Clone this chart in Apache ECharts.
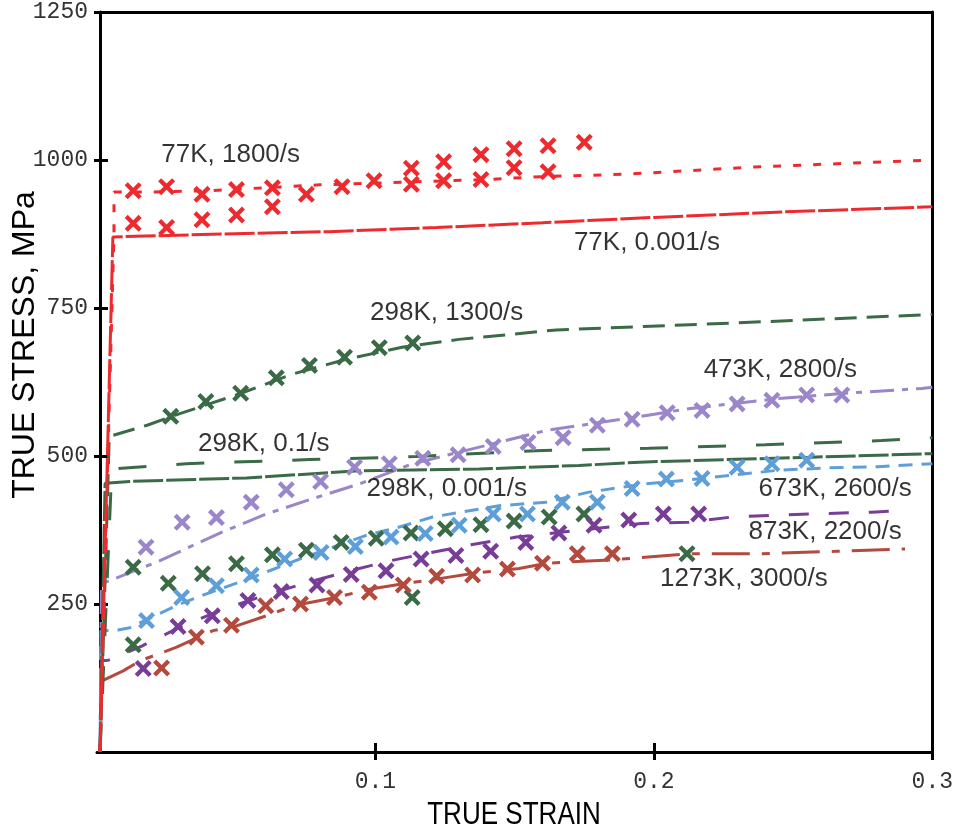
<!DOCTYPE html>
<html>
<head>
<meta charset="utf-8">
<script src="https://cdn.jsdelivr.net/npm/echarts@6/dist/echarts.min.js"></script>
<style>
  html, body { margin: 0; padding: 0; background: #fff; }
  #chart { width: 956px; height: 832px; }
</style>
</head>
<body>
<div id="chart"></div>
<script>
// axis ticks
const xTicks = [0.1, 0.2, 0.3]
const yTicks = [250, 500, 750, 1000, 1250]

// curves: [strain, stress MPa]
const k77_1800_line = [[0.001, 0], [0.0061, 875], [0.0061, 946], [0.02, 946], [0.04, 948], [0.06, 953], [0.08, 958], [0.1, 961], [0.12, 964], [0.14, 967], [0.16, 972], [0.19, 976], [0.235, 988], [0.3, 1000]]
const k77_1800_pts = [[0.013, 948], [0.013, 893], [0.025, 955], [0.025, 886], [0.0377, 942], [0.0377, 899], [0.0501, 950], [0.0501, 907], [0.063, 953], [0.063, 921], [0.0752, 942], [0.088, 955], [0.0995, 965], [0.1129, 986], [0.1129, 959], [0.1245, 997], [0.1245, 965], [0.1379, 1009], [0.1379, 967], [0.1498, 1019], [0.1498, 987], [0.162, 1024], [0.162, 980], [0.175, 1030]]
const k77_0001_line = [[0.0011, 0], [0.0057, 870], [0.045, 875], [0.0835, 879], [0.122, 886], [0.16, 894], [0.2, 903], [0.25, 913], [0.3, 921]]
const k298_1300_line = [[0.0011, 0], [0.0044, 533], [0.018, 552], [0.03, 572], [0.05, 603], [0.07, 638], [0.09, 664], [0.11, 684], [0.13, 697], [0.165, 713], [0.23, 725], [0.3, 739]]
const k298_1300_pts = [[0.0265, 567], [0.0391, 592], [0.0516, 606], [0.0644, 632], [0.0763, 653], [0.0889, 667], [0.1014, 683], [0.1134, 691]]
const k298_01_line = [[0.0011, 0], [0.0053, 478], [0.0321, 487], [0.0763, 494], [0.1146, 499], [0.1576, 509], [0.1982, 513], [0.24, 519], [0.2818, 526], [0.3, 531]]
const k298_0001_line = [[0.0011, 0], [0.0029, 454], [0.0118, 457], [0.0537, 463], [0.0943, 475], [0.1373, 478], [0.1731, 484], [0.197, 490], [0.2566, 498], [0.3, 504]]
const k298_lower_pts = [[0.013, 312], [0.0256, 285], [0.0379, 301], [0.0501, 318], [0.063, 333], [0.0752, 341], [0.0877, 354], [0.1003, 361], [0.1128, 370], [0.1251, 377], [0.1379, 384], [0.1498, 390], [0.1624, 397], [0.1749, 402], [0.013, 181], [0.1132, 261], [0.2119, 335]]
const k473_2800_line = [[0.0011, 0], [0.0016, 284], [0.0023, 287], [0.022, 322], [0.0447, 371], [0.0608, 402], [0.0775, 428], [0.0943, 453], [0.1134, 487], [0.1373, 515], [0.1612, 543], [0.1899, 563], [0.2125, 580], [0.2448, 597], [0.2687, 606], [0.2962, 614], [0.3, 616]]
const k473_2800_pts = [[0.0176, 346], [0.0306, 388], [0.0429, 396], [0.0554, 422], [0.068, 443], [0.0803, 457], [0.0925, 481], [0.105, 487], [0.117, 496], [0.1297, 502], [0.1423, 516], [0.1548, 523], [0.1674, 531], [0.1797, 552], [0.1922, 562], [0.2048, 573], [0.2173, 577], [0.2299, 588], [0.2424, 594], [0.2549, 603], [0.2675, 603]]
const k673_2600_line = [[0.0011, 0], [0.0014, 205], [0.0076, 206], [0.0118, 210], [0.0297, 250], [0.0398, 268], [0.0548, 293], [0.0624, 307], [0.0728, 326], [0.0847, 346], [0.0967, 366], [0.1086, 380], [0.1205, 397], [0.1444, 416], [0.1612, 422], [0.1767, 439], [0.197, 453], [0.2114, 459], [0.2269, 467], [0.2448, 476], [0.2627, 480], [0.2806, 482], [0.3, 487]]
const k673_2600_pts = [[0.0178, 222], [0.0304, 261], [0.0429, 281], [0.0554, 299], [0.0674, 326], [0.0805, 337], [0.0928, 347], [0.1056, 363], [0.1179, 369], [0.1301, 383], [0.1423, 402], [0.1546, 402], [0.1671, 422], [0.1797, 422], [0.1922, 445], [0.2045, 461], [0.2173, 462], [0.2299, 481], [0.2424, 487], [0.2549, 493]]
const k873_2200_line = [[0.0011, 0], [0.0015, 154], [0.004, 155], [0.0161, 179], [0.0294, 210], [0.0447, 240], [0.0593, 263], [0.0739, 284], [0.09, 305], [0.1043, 322], [0.1146, 332], [0.1343, 350], [0.1507, 363], [0.1799, 378], [0.1955, 386], [0.2125, 388], [0.2281, 397], [0.2448, 400], [0.2627, 403], [0.2782, 405], [0.2902, 408]]
const k873_2200_pts = [[0.0166, 141], [0.0291, 212], [0.0414, 230], [0.0542, 256], [0.0662, 271], [0.079, 282], [0.0913, 300], [0.1038, 306], [0.1164, 326], [0.1289, 332], [0.1414, 339], [0.154, 354], [0.1659, 370], [0.1785, 383], [0.191, 392], [0.2034, 402], [0.2161, 402]]
const k1273_3000_line = [[0.0011, 0], [0.0018, 120], [0.0094, 137], [0.0154, 154], [0.0286, 177], [0.0417, 205], [0.0501, 213], [0.0608, 230], [0.0704, 247], [0.0859, 261], [0.0978, 275], [0.1098, 284], [0.1218, 292], [0.1355, 302], [0.1516, 310], [0.1618, 319], [0.1863, 325], [0.2125, 335], [0.2388, 335], [0.2651, 339], [0.2902, 343]]
const k1273_3000_pts = [[0.0232, 142], [0.0357, 194], [0.0483, 214], [0.0606, 247], [0.0731, 250], [0.0853, 261], [0.0978, 270], [0.11, 282], [0.122, 297], [0.1349, 299], [0.1474, 309], [0.16, 319], [0.1725, 335], [0.1851, 335]]

// curve labels: [strain, stress, text]
const curveLabels = [
  [0.048, 1008, '77K, 1800/s'],
  [0.1975, 860, '77K, 0.001/s'],
  [0.1256, 742, '298K, 1300/s'],
  [0.0599, 521, '298K, 0.1/s'],
  [0.1256, 445, '298K, 0.001/s'],
  [0.2454, 646, '473K, 2800/s'],
  [0.2651, 444, '673K, 2600/s'],
  [0.2615, 372, '873K, 2200/s'],
  [0.2323, 293, '1273K, 3000/s'],
]

const RED = '#ee2a2f'
const GREEN = '#3b6a46'
const LAVENDER = '#9a86c8'
const BLUE = '#5e9fd9'
const PURPLE = '#783d97'
const BRICK = '#b4493e'

const X_MARK = 'path://M1.8,0 L5,3.2 L8.2,0 L10,1.8 L6.8,5 L10,8.2 L8.2,10 L5,6.8 L1.8,10 L0,8.2 L3.2,5 L0,1.8 Z'
const SANS = '"Liberation Sans", Arial, sans-serif'
const MONO = '"Liberation Mono", "Courier New", monospace'

function lineSeries(data, color, dash) {
  return {
    type: 'line',
    data,
    symbol: 'none',
    silent: true,
    lineStyle: { color, width: 3, type: dash, cap: 'butt' },
    z: 2,
  }
}

function markSeries(data, color) {
  return {
    type: 'scatter',
    data,
    symbol: X_MARK,
    symbolSize: 17,
    silent: true,
    itemStyle: { color, opacity: 1 },
    z: 3,
  }
}

const chart = echarts.init(document.getElementById('chart'))

const frameAxis = {
  axisLine: { onZero: false, lineStyle: { color: '#000', width: 3 } },
  axisTick: { show: false }, axisLabel: { show: false }, splitLine: { show: false },
}
const tickAxis = {
  axisLine: { show: false }, axisLabel: { show: false }, splitLine: { show: false },
}

chart.setOption({
  animation: false,
  grid: { left: 97, right: 22, top: 12, bottom: 80 },
  xAxis: [
    {
      type: 'value', min: 0, max: 0.3, interval: 0.1,
      axisLine: { onZero: false, lineStyle: { color: '#000', width: 3 } },
      axisTick: { customValues: xTicks, length: 8, lineStyle: { color: '#000', width: 3 } },
      axisLabel: {
        customValues: xTicks, margin: 18, color: '#333',
        fontFamily: MONO, fontSize: 23,
        formatter: v => v.toFixed(1),
      },
      splitLine: { show: false },
    },
    {
      ...tickAxis, type: 'value', min: 0, max: 0.3, position: 'bottom',
      axisTick: { customValues: xTicks, inside: true, length: 9, lineStyle: { color: '#000', width: 3 } },
    },
    { ...frameAxis, type: 'value', min: 0, max: 0.3, position: 'top' },
  ],
  yAxis: [
    {
      type: 'value', min: 0, max: 1250, interval: 250, offset: -3,
      axisLine: { onZero: false, lineStyle: { color: '#000', width: 3 } },
      axisTick: { customValues: yTicks, length: 6, lineStyle: { color: '#000', width: 3 } },
      axisLabel: {
        customValues: yTicks, margin: 12, color: '#333',
        fontFamily: MONO, fontSize: 23,
        formatter: v => String(v),
      },
      splitLine: { show: false },
    },
    {
      ...tickAxis, type: 'value', min: 0, max: 1250, position: 'left', offset: -3,
      axisTick: { customValues: yTicks, inside: true, length: 8, lineStyle: { color: '#000', width: 3 } },
    },
    { ...frameAxis, type: 'value', min: 0, max: 1250, position: 'right' },
  ],
  graphic: [
    {
      // narrow-looking title in the original
      type: 'text', x: 514, y: 815, scaleX: 0.84,
      style: { text: 'TRUE STRAIN', font: '31px ' + SANS, fill: '#000', align: 'center', verticalAlign: 'middle' },
    },
    {
      type: 'text', x: 25, y: 345, rotation: Math.PI / 2,
      style: { text: 'TRUE STRESS, MPa', font: '32px ' + SANS, fill: '#000', align: 'center', verticalAlign: 'middle' },
    },
  ],
  series: [
    lineSeries(k1273_3000_line, BRICK, [38, 12, 8, 12]),
    lineSeries(k873_2200_line, PURPLE, [20, 20]),
    lineSeries(k673_2600_line, BLUE, [14, 9]),
    lineSeries(k473_2800_line, LAVENDER, [24, 8, 6, 8]),
    lineSeries(k298_0001_line, GREEN, [30, 3]),
    lineSeries(k298_01_line, GREEN, [28, 30]),
    lineSeries(k298_1300_line, GREEN, [22, 10]),
    lineSeries(k77_0001_line, RED, [30, 3]),
    lineSeries(k77_1800_line, RED, [8, 12]),
    markSeries(k77_1800_pts, RED),
    markSeries(k298_1300_pts, GREEN),
    markSeries(k298_lower_pts, GREEN),
    markSeries(k473_2800_pts, LAVENDER),
    markSeries(k673_2600_pts, BLUE),
    markSeries(k873_2200_pts, PURPLE),
    markSeries(k1273_3000_pts, BRICK),
    {
      type: 'scatter',
      data: curveLabels.map(d => ({ value: [d[0], d[1]], name: d[2] })),
      symbolSize: 0,
      silent: true,
      z: 4,
      label: {
        show: true, position: 'inside', formatter: p => p.name,
        color: '#000', fontFamily: SANS, fontSize: 26,
      },
    },
  ],
})
</script>
</body>
</html>
